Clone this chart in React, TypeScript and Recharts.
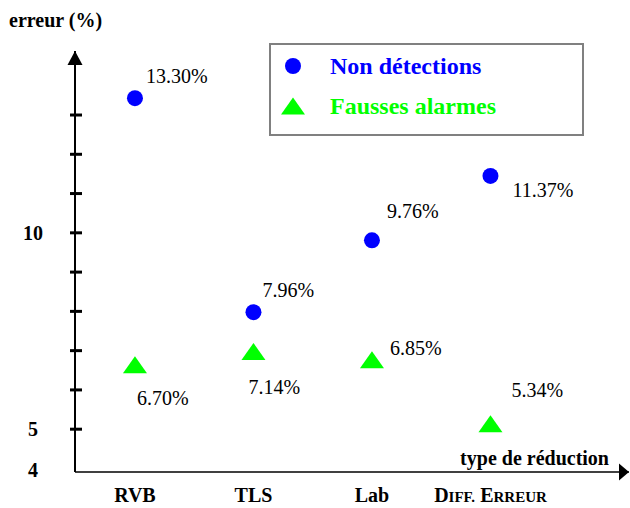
import { ScatterChart, Scatter, XAxis, YAxis, ReferenceDot, Legend } from "recharts";

const categories = ["RVB", "TLS", "Lab", "DIFF. ERREUR"];
const nonDetections = [13.43, 7.98, 9.81, 11.45];
const nonDetectionLabels = ["13.30%", "7.96%", "9.76%", "11.37%"];
const faussesAlarmes = [6.64, 6.98, 6.77, 5.14];
const faussesAlarmesLabels = ["6.70%", "7.14%", "6.85%", "5.34%"];
const yTicks = [4, 5, 6, 7, 8, 9, 10, 11, 12, 13];
const yTickLabels = [4, 5, 10];

const X_DOMAIN: [number, number] = [0.494, 5.169];
const Y_DOMAIN: [number, number] = [3.91, 14.63];
const BLUE = "#0000ff";
const GREEN = "#00ff00";
const SERIF = "'Liberation Serif', 'Times New Roman', serif";

// where each value label sits relative to its marker (dx, baseline dy)
const ndOffsets = [[11, -15], [9, -15], [15, -22], [22, 21]];
const faOffsets = [[2, 40], [-5, 43], [18, -5], [21, -27]];

const ndData = nonDetections.map((v, i) => ({ x: i + 1, y: v, label: nonDetectionLabels[i] }));
const faData = faussesAlarmes.map((v, i) => ({ x: i + 1, y: v, label: faussesAlarmesLabels[i] }));

function triPoints(cx: number, cy: number) {
  return `${cx},${cy - 8.5} ${cx - 12},${cy + 8.5} ${cx + 12},${cy + 8.5}`;
}

function CircleMark(props: any) {
  const { cx, cy, payload } = props;
  const [dx, dy] = ndOffsets[payload.x - 1];
  return (
    <g>
      <circle cx={cx} cy={cy} r={8} fill={BLUE} />
      <text x={cx + dx} y={cy + dy} fontFamily={SERIF} fontSize={20} fill="#000">
        {payload.label}
      </text>
    </g>
  );
}

function TriangleMark(props: any) {
  const { cx, cy, payload } = props;
  const [dx, dy] = faOffsets[payload.x - 1];
  return (
    <g>
      <polygon points={triPoints(cx, cy)} fill={GREEN} />
      <text x={cx + dx} y={cy + dy} fontFamily={SERIF} fontSize={20} fill="#000">
        {payload.label}
      </text>
    </g>
  );
}

function YTick(props: any) {
  const { y, payload } = props;
  const v = payload.value;
  return (
    <g>
      {v !== 4 && <line x1={70} x2={82} y1={y} y2={y} stroke="#000" strokeWidth={3} />}
      {yTickLabels.includes(v) && (
        <text x={33} y={y + (v === 4 ? 9 : 7)} textAnchor="middle" fontFamily={SERIF} fontWeight="bold" fontSize={20} fill="#000">
          {v}
        </text>
      )}
    </g>
  );
}

function XTick(props: any) {
  const { x, payload } = props;
  const name = categories[payload.value - 1];
  if (!name) return null;
  const smallCaps = name === "DIFF. ERREUR";
  return (
    <text x={x} y={502} textAnchor="middle" fontFamily={SERIF} fontWeight="bold" fontSize={20} fill="#000">
      {smallCaps
        ? name.split(" ").map((w, i) => (
            <tspan key={i}>
              {i > 0 ? " " : ""}
              <tspan fontSize={20}>{w[0]}</tspan>
              <tspan fontSize={15}>{w.slice(1)}</tspan>
            </tspan>
          ))
        : name}
    </text>
  );
}

function LegendBox(props: any) {
  const payload = props.payload || [];
  return (
    <svg width={316} height={94} style={{ display: "block" }}>
      <rect x={1} y={1} width={313} height={91} fill="#fff" stroke="#808080" strokeWidth={2} />
      {payload.map((p: any, i: number) => {
        const isTri = p.type === "triangle";
        const cy = isTri ? 63 : 23;
        return (
          <g key={i}>
            {isTri ? (
              <polygon points={triPoints(24, cy)} fill={p.color} />
            ) : (
              <circle cx={24} cy={cy} r={8} fill={p.color} />
            )}
            <text x={61} y={cy + 8} fontFamily={SERIF} fontWeight="bold" fontSize={24} fill={p.color}>
              {p.value}
            </text>
          </g>
        );
      })}
    </svg>
  );
}

export default function App() {
  return (
    <div style={{ position: "absolute", left: 0, top: 0 }}>
      <ScatterChart width={630} height={508} margin={{ top: 51, right: 1, left: 0, bottom: 0 }}>
        <text x={9} y={27} fontFamily={SERIF} fontWeight="bold" fontSize={20} fill="#000">
          erreur (%)
        </text>
        <XAxis
          type="number"
          dataKey="x"
          domain={X_DOMAIN}
          ticks={[1, 2, 3, 4]}
          interval={0}
          allowDataOverflow
          height={36}
          axisLine={{ stroke: "#000", strokeWidth: 1.5 }}
          tickLine={false}
          tick={<XTick />}
        />
        <YAxis
          type="number"
          dataKey="y"
          domain={Y_DOMAIN}
          ticks={yTicks}
          interval={0}
          allowDataOverflow
          width={75}
          axisLine={{ stroke: "#000", strokeWidth: 2 }}
          tickLine={false}
          tick={<YTick />}
        />
        <Legend
          layout="horizontal"
          verticalAlign="middle"
          align="center"
          wrapperStyle={{ left: 269, top: 43, width: 316 }}
          content={<LegendBox />}
        />
        <Scatter
          name="Non détections"
          data={ndData}
          fill={BLUE}
          legendType="circle"
          shape={<CircleMark />}
          isAnimationActive={false}
        />
        <Scatter
          name="Fausses alarmes"
          data={faData}
          fill={GREEN}
          legendType="triangle"
          shape={<TriangleMark />}
          isAnimationActive={false}
        />
        <ReferenceDot
          x={X_DOMAIN[0]}
          y={Y_DOMAIN[1]}
          ifOverflow="visible"
          shape={(p: any) => (
            <polygon points={`${p.cx},${p.cy} ${p.cx - 7.5},${p.cy + 14} ${p.cx + 7.5},${p.cy + 14}`} fill="#000" />
          )}
        />
        <ReferenceDot
          x={X_DOMAIN[1]}
          y={Y_DOMAIN[0]}
          ifOverflow="visible"
          shape={(p: any) => (
            <polygon points={`${p.cx},${p.cy} ${p.cx - 10},${p.cy - 8.5} ${p.cx - 10},${p.cy + 8.5}`} fill="#000" />
          )}
        />
        <text x={609} y={465} textAnchor="end" fontFamily={SERIF} fontWeight="bold" fontSize={20} fill="#000">
          type de réduction
        </text>
      </ScatterChart>
    </div>
  );
}
